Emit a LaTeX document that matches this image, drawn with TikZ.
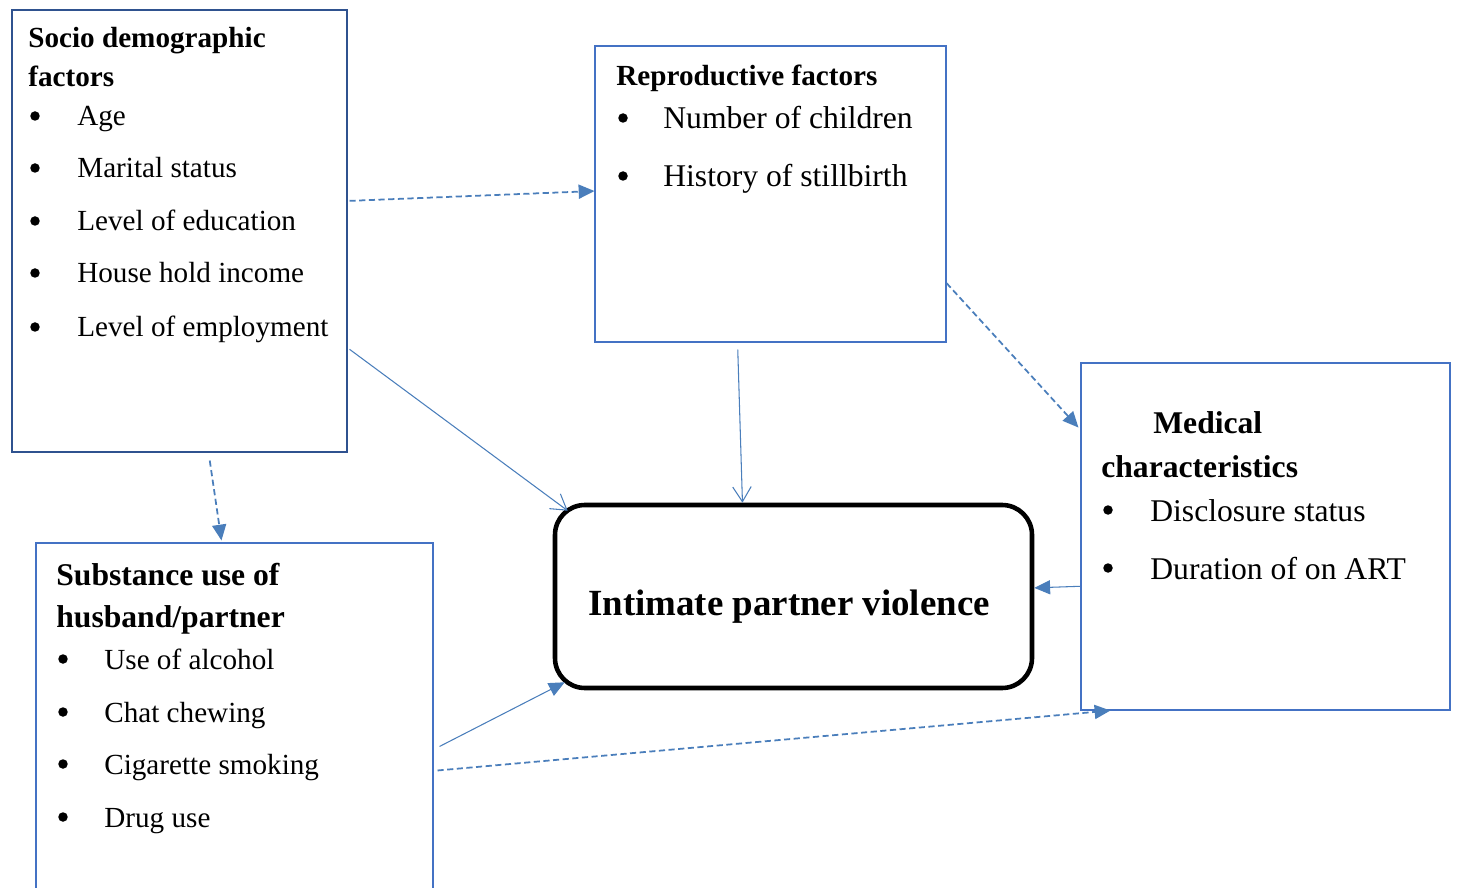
\documentclass[tikz,border=0pt]{standalone}
\usepackage{fontspec}
\setmainfont{Liberation Serif}
\usetikzlibrary{arrows.meta,calc,fit}
\definecolor{boxblue}{RGB}{68,114,196}
\definecolor{darkblue}{RGB}{47,82,143}
\definecolor{arrowblue}{RGB}{74,126,187}

\begin{document}
\begin{tikzpicture}[x=0.02cm,y=-0.02cm,
	box/.style={draw=boxblue, line width=0.6pt, inner sep=0pt},
	ipvbox/.style={draw=black, line width=2.6pt, rounded corners=17pt, inner sep=0pt},
	head/.style={anchor=base west, inner sep=0pt, font=\fontsize{16.6}{20}\selectfont\bfseries},
	bighead/.style={anchor=base west, inner sep=0pt, font=\fontsize{18}{22}\selectfont\bfseries},
	item/.style={anchor=base west, inner sep=0pt, font=\fontsize{16.6}{20}\selectfont},
	bigitem/.style={anchor=base west, inner sep=0pt, font=\fontsize{18}{22}\selectfont},
	dot/.style={circle, fill=black, inner sep=0pt, minimum size=0.19cm},
	title/.style={anchor=base, inner sep=0pt, font=\fontsize{21}{25}\selectfont\bfseries},
	link/.style={draw=arrowblue, line width=0.6pt, -{Straight Barb[length=8.5pt,width=10.5pt]}},
	solidlink/.style={draw=arrowblue, line width=0.6pt, -{Triangle[length=9pt,width=8pt]}},
	dashlink/.style={draw=arrowblue, line width=1pt, dash pattern=on 3.5pt off 2pt, -{Triangle[length=9pt,width=8pt]}}
	]
	\useasboundingbox (0,0) rectangle (1457,888);
	\clip (0,0) rectangle (1457,888);
	
	% riquadri
	\node[box, draw=darkblue, fit={(12,10) (347,452)}] (socio) {};
	\node[box, fit={(595,46) (946,342)}] (repro) {};
	\node[box, fit={(1081,363) (1450,710)}] (medical) {};
	\node[box, fit={(36,543) (433,900)}] (subst) {};
	\node[ipvbox, fit={(555,505) (1032,688)}] (ipv) {};
	\node[title] (ipvtext) at (789,615) {Intimate partner violence};
	
	% fattori socio demografici
	\node[head] (sociohead) at (28,48) {Socio demographic};
	\node[head] (sociohead2) at (28,87) {factors};
	\node[dot] (sd1) at (35,116) {};
	\node[item] (si1) at (77,126) {Age};
	\node[dot] (sd2) at (35,168) {};
	\node[item] (si2) at (77,178) {Marital status};
	\node[dot] (sd3) at (35,221) {};
	\node[item] (si3) at (77,231) {Level of education};
	\node[dot] (sd4) at (35,273) {};
	\node[item] (si4) at (77,283) {House hold income};
	\node[dot] (sd5) at (35,327) {};
	\node[item] (si5) at (77,337) {Level of employment};
	
	% fattori riproduttivi
	\node[head] (reprohead) at (616,86) {Reproductive factors};
	\node[dot] (rd1) at (623,118) {};
	\node[bigitem] (ri1) at (663,129) {Number of children};
	\node[dot] (rd2) at (623,176) {};
	\node[bigitem] (ri2) at (663,187) {History of stillbirth};
	
	% caratteristiche mediche
	\node[bighead] (medhead) at (1153,434) {Medical};
	\node[bighead] (medhead2) at (1101,477) {characteristics};
	\node[dot] (md1) at (1108,510) {};
	\node[bigitem] (mi1) at (1150,521) {Disclosure status};
	\node[dot] (md2) at (1108,568) {};
	\node[bigitem] (mi2) at (1150,579) {Duration of on ART};
	
	% sostanze
	\node[bighead] (subhead) at (56,585) {Substance use of};
	\node[bighead] (subhead2) at (56,627) {husband/partner};
	\node[dot] (ud1) at (63,659) {};
	\node[item] (ui1) at (104,669) {Use of alcohol};
	\node[dot] (ud2) at (63,712) {};
	\node[item] (ui2) at (104,722) {Chat chewing};
	\node[dot] (ud3) at (63,764) {};
	\node[item] (ui3) at (104,774) {Cigarette smoking};
	\node[dot] (ud4) at (63,817) {};
	\node[item] (ui4) at (104,827) {Drug use};
	
	% frecce
	\draw[dashlink] ($(socio.north east)!0.432!(socio.south east)+(2,0)$) -- ($(repro.north west)!0.49!(repro.south west)$);
	\draw[link] ($(socio.north east)!0.767!(socio.south east)+(2,0)$) -- ($(ipv.north west)+(15,8)$);
	\draw[dashlink] ($(socio.south west)!0.59!(socio.south east)+(0,8)$) -- ($(subst.north west)+(186,-2)$);
	\draw[link] ($(repro.south west)!0.407!(repro.south east)+(0,7)$) -- ($(ipv.north west)!0.394!(ipv.north east)$);
	\draw[dashlink] ($(repro.north east)!0.80!(repro.south east)$) -- ($(medical.north west)!0.187!(medical.south west)+(-2,0)$);
	\draw[solidlink] ($(medical.north west)!0.643!(medical.south west)$) -- ($(ipv.north east)!0.454!(ipv.south east)$);
	\draw[solidlink] ($(subst.north east)+(6,204)$) -- ($(ipv.south west)+(12,-8)$);
	\draw[dashlink] ($(subst.north east)+(4,228)$) -- ($(medical.south west)!0.081!(medical.south east)$);
\end{tikzpicture}
\end{document}
